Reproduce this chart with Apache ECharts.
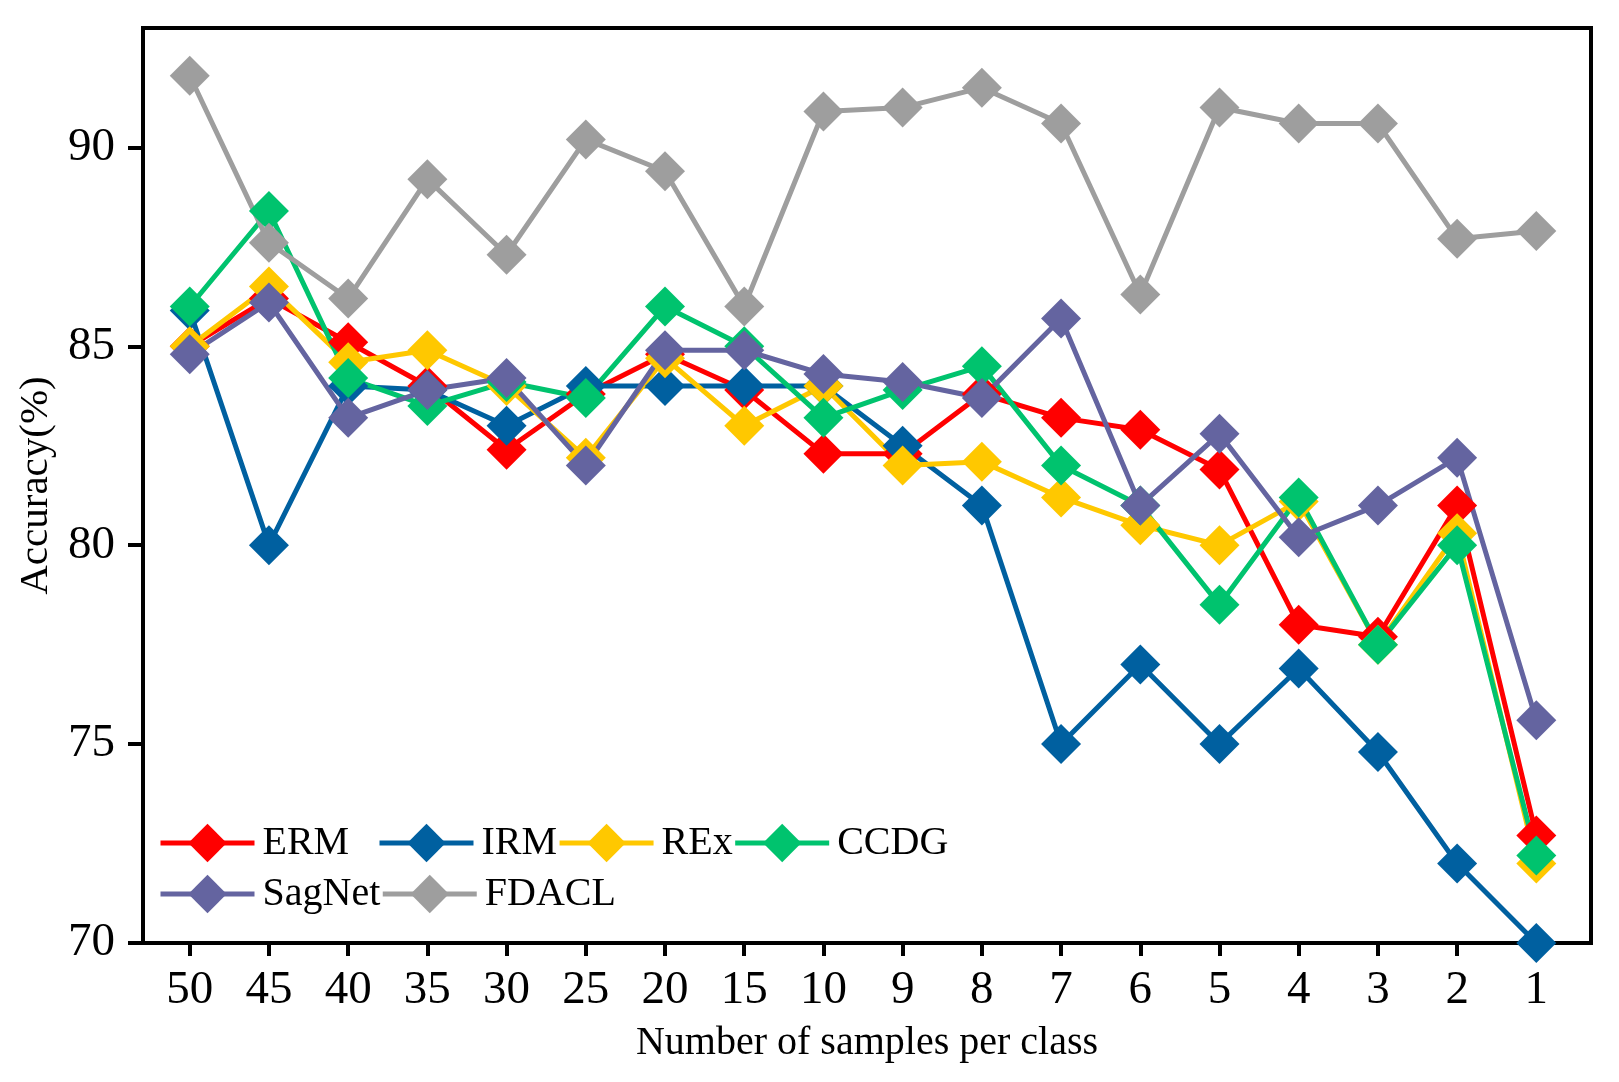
<!DOCTYPE html>
<html>
<head>
<meta charset="utf-8">
<script src="https://cdn.jsdelivr.net/npm/echarts@6/dist/echarts.min.js"></script>
<style>
  * { margin: 0; padding: 0; }
  body { background: #fff; }
  #container { width: 1619px; height: 1082px; }
</style>
</head>
<body>
<div id="container"></div>
<script>
var categories = ['50', '45', '40', '35', '30', '25', '20', '15', '10', '9', '8', '7', '6', '5', '4', '3', '2', '1'];
var yTicks = [70, 75, 80, 85, 90];

var erm    = [85.0, 86.2, 85.1, 84.0, 82.4, 83.8, 84.8, 83.9, 82.3, 82.3, 83.8, 83.2, 82.9, 81.9, 78.0, 77.7, 81.0, 72.7];
var irm    = [85.9, 80.0, 84.0, 83.9, 83.0, 84.0, 84.0, 84.0, 84.0, 82.5, 81.0, 75.0, 77.0, 75.0, 76.9, 74.8, 72.0, 70.0];
var rex    = [85.0, 86.5, 84.6, 84.9, 84.0, 82.2, 84.7, 83.0, 84.0, 82.0, 82.1, 81.2, 80.5, 80.0, 81.1, 77.5, 80.3, 72.0];
var ccdg   = [86.0, 88.4, 84.2, 83.5, 84.1, 83.7, 86.0, 85.0, 83.2, 83.9, 84.5, 82.0, 81.0, 78.5, 81.2, 77.5, 80.0, 72.2];
var sagnet = [84.8, 86.1, 83.2, 83.9, 84.2, 82.0, 84.9, 84.9, 84.3, 84.1, 83.7, 85.7, 81.0, 82.8, 80.2, 81.0, 82.2, 75.6];
var fdacl  = [91.8, 87.6, 86.2, 89.2, 87.3, 90.2, 89.4, 86.0, 90.9, 91.0, 91.5, 90.6, 86.3, 91.0, 90.6, 90.6, 87.7, 87.9];

var seriesNames = ['ERM', 'IRM', 'REx', 'CCDG', 'SagNet', 'FDACL'];
var seriesValues = [erm, irm, rex, ccdg, sagnet, fdacl];
var seriesColors = ['#ff0000', '#0060a0', '#ffc800', '#00c36e', '#6464a0', '#9e9e9e'];

var font = 'Liberation Serif';
var tickIdx = categories.map(function (c, i) { return i; });

var chart = echarts.init(document.getElementById('container'));

var series = [];
for (var s = 0; s < seriesNames.length; s++) {
    series.push({
        name: seriesNames[s],
        type: 'line',
        data: seriesValues[s].map(function (v, i) { return [i, v]; }),
        symbol: 'diamond',
        symbolSize: 40,
        color: seriesColors[s],
        itemStyle: { color: seriesColors[s] },
        lineStyle: { width: 5, color: seriesColors[s] },
        emphasis: { disabled: true }
    });
}

// legend rows: ERM alone, then IRM/REx/CCDG packed, SagNet/FDACL packed
var legendCommon = {
    orient: 'horizontal',
    itemWidth: 94,
    itemHeight: 48,
    itemGap: 0,
    lineStyle: { width: 5 },
    textStyle: { fontFamily: font, fontSize: 40, color: '#000', padding: [0, 0, 0, 3] }
};

var option = {
    animation: false,
    backgroundColor: '#fff',
    grid: {
        left: 143, right: 28, top: 28, bottom: 139,
        show: true, borderColor: '#000', borderWidth: 4,
        containLabel: false, outerBoundsMode: 'none'
    },
    legend: [
        Object.assign({}, legendCommon, { left: 153, top: 818, data: ['ERM'] }),
        Object.assign({}, legendCommon, { left: 372, top: 818, data: ['IRM', 'REx', 'CCDG'] }),
        Object.assign({}, legendCommon, { left: 153, top: 869, data: ['SagNet', 'FDACL'] })
    ],
    xAxis: {
        type: 'value',
        min: -0.59,
        max: 17.69,
        name: 'Number of samples per class',
        nameLocation: 'middle',
        nameGap: 80,
        nameTextStyle: { fontFamily: font, fontSize: 40, color: '#000' },
        axisLine: { show: true, onZero: false, lineStyle: { color: '#000', width: 4 } },
        axisTick: { show: true, inside: false, length: 13, customValues: tickIdx, lineStyle: { color: '#000', width: 4 } },
        axisLabel: {
            customValues: tickIdx,
            formatter: function (v) { return categories[Math.round(v)]; },
            fontFamily: font, fontSize: 47, color: '#000', margin: 24
        },
        splitLine: { show: false }
    },
    yAxis: {
        type: 'value',
        min: 70,
        max: 93,
        name: 'Accuracy(%)',
        nameLocation: 'middle',
        nameGap: 80,
        nameTextStyle: { fontFamily: font, fontSize: 41, color: '#000' },
        axisLine: { show: true, onZero: false, lineStyle: { color: '#000', width: 4 } },
        axisTick: { show: true, inside: false, length: 15, customValues: yTicks, lineStyle: { color: '#000', width: 4 } },
        axisLabel: { customValues: yTicks, fontFamily: font, fontSize: 47, color: '#000', margin: 28 },
        splitLine: { show: false }
    },
    series: series
};

chart.setOption(option);
</script>
</body>
</html>
